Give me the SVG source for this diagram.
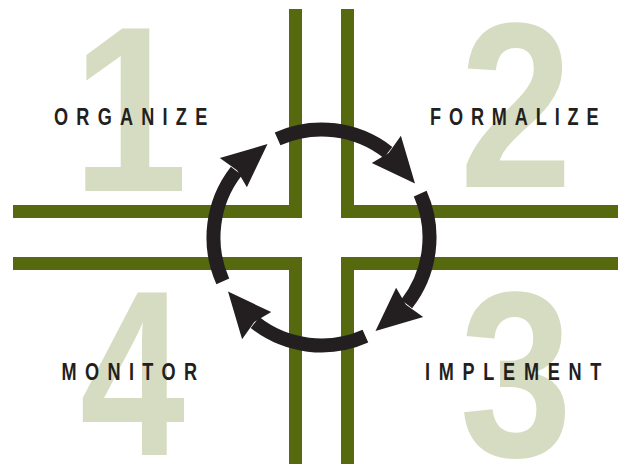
<svg xmlns="http://www.w3.org/2000/svg" xmlns:xlink="http://www.w3.org/1999/xlink" width="620" height="464" viewBox="0 0 620 464">
  <style>
    .bar { fill: #57690f; }
    .num { fill: #d6dcc1; font-family: "Liberation Sans", Arial, sans-serif; font-weight: bold; font-size: 236px; text-anchor: middle; }
    .lbl { fill: #231f20; font-family: "Liberation Sans", Arial, sans-serif; font-weight: bold; font-size: 23.5px; }
    .arc { fill: none; stroke: #231f20; stroke-width: 14; stroke-linecap: butt; }
    .head { fill: #231f20; }
  </style>
  <defs>
    <g id="cycleArrow">
      <path class="arc" d="M 277.6 138.8 A 108 108 0 0 1 388.0 152.4"/>
      <path class="head" d="M 371.8 162.9 L 415.0 183.5 L 400.9 135.8 L 388.7 153.0 Z"/>
    </g>
  </defs>
  <rect width="620" height="464" fill="#ffffff"/>
  <g id="grid">
    <path class="bar" d="M 289 9 H 302 V 218 H 13 V 205 H 289 Z"/>
    <path class="bar" d="M 341 9 H 354 V 205 H 618 V 218 H 341 Z"/>
    <path class="bar" d="M 13 257 H 302 V 464 H 289 V 270 H 13 Z"/>
    <path class="bar" d="M 341 257 H 618 V 270 H 354 V 464 H 341 Z"/>
  </g>
  <g id="node-organize">
    <text class="num" transform="translate(130,191) scale(0.88,1)">1</text>
    <text class="lbl" transform="translate(54,124.5) scale(0.77,1)" textLength="199" lengthAdjust="spacing">ORGANIZE</text>
  </g>
  <g id="node-formalize">
    <text class="num" transform="translate(516,187) scale(0.86,1)">2</text>
    <text class="lbl" transform="translate(430,124.5) scale(0.77,1)" textLength="219" lengthAdjust="spacing">FORMALIZE</text>
  </g>
  <g id="node-implement">
    <text class="num" transform="translate(516,456) scale(0.86,1)">3</text>
    <text class="lbl" transform="translate(425,379.5) scale(0.77,1)" textLength="229" lengthAdjust="spacing">IMPLEMENT</text>
  </g>
  <g id="node-monitor">
    <text class="num" transform="translate(132.5,455) scale(0.8,1)">4</text>
    <text class="lbl" transform="translate(61.5,379.5) scale(0.77,1)" textLength="176" lengthAdjust="spacing">MONITOR</text>
  </g>
  <g id="connectors">
    <use xlink:href="#cycleArrow"/>
    <use xlink:href="#cycleArrow" transform="rotate(90 321.5 237.5)"/>
    <use xlink:href="#cycleArrow" transform="rotate(180 321.5 237.5)"/>
    <use xlink:href="#cycleArrow" transform="rotate(270 321.5 237.5)"/>
  </g>
</svg>
